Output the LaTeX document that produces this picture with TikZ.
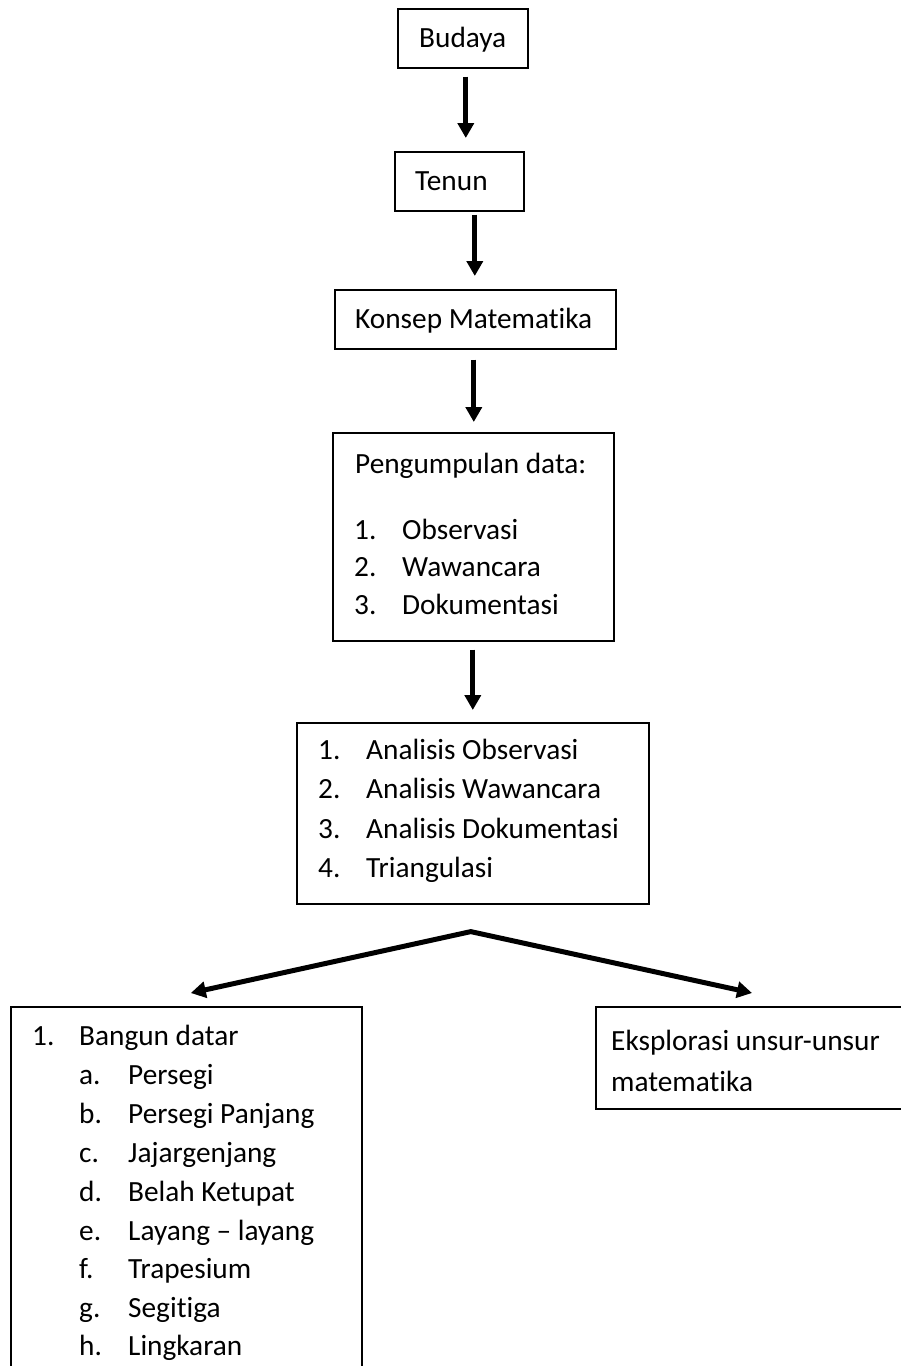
\documentclass[tikz,border=0pt]{standalone}
\usepackage{fontspec}
\setmainfont{Carlito}[Ligatures={TeX,NoCommon}]
\usetikzlibrary{arrows.meta}
\begin{document}
\begin{tikzpicture}[x=1pt,y=-1pt,
  box/.style={draw, line width=1.6pt, inner sep=0pt, anchor=north west},
  txt/.style={anchor=base west, inner sep=0pt, font=\fontsize{29.3}{35}\selectfont},
  arr/.style={line width=5pt, -{Triangle[length=15pt,width=16pt]}},
  darr/.style={line width=5pt, line join=miter, {Triangle[length=15pt,width=16pt]}-{Triangle[length=15pt,width=16pt]}}]
\useasboundingbox (0,0) rectangle (901,1366);
\clip (0,0) rectangle (901,1366);
\fill[white] (0,0) rectangle (901,1366);

% boxes
\node[box, minimum width=130pt, minimum height=59pt] (budaya) at (397,8) {};
\node[box, minimum width=129pt, minimum height=59pt] (tenun) at (394,151) {};
\node[box, minimum width=281pt, minimum height=59pt] (konsep) at (334,289) {};
\node[box, minimum width=281pt, minimum height=208pt] (kumpul) at (332,432) {};
\node[box, minimum width=352pt, minimum height=181pt] (analisis) at (296,722) {};
\node[box, minimum width=351pt, minimum height=420pt] (lbox) at (10,1006) {};
\node[box, minimum width=330pt, minimum height=102pt] (rbox) at (595,1006) {};

% texts
\node[txt] (t1) at (419,47) {Budaya};
\node[txt] (t2) at (415,190) {Tenun};
\node[txt] (t3) at (355,328) {Konsep Matematika};

\node[txt] (k0) at (355,473) {Pengumpulan data:};
\node[txt] (k1n) at (354,539) {1.};
\node[txt] (k1) at (402,539) {Observasi};
\node[txt] (k2n) at (354,576.5) {2.};
\node[txt] (k2) at (402,576.5) {Wawancara};
\node[txt] (k3n) at (354,614) {3.};
\node[txt] (k3) at (402,614) {Dokumentasi};

\node[txt] (a1n) at (318,759) {1.};
\node[txt] (a1) at (366,759) {Analisis Observasi};
\node[txt] (a2n) at (318,798.5) {2.};
\node[txt] (a2) at (366,798.5) {Analisis Wawancara};
\node[txt] (a3n) at (318,838) {3.};
\node[txt] (a3) at (366,838) {Analisis Dokumentasi};
\node[txt] (a4n) at (318,877.5) {4.};
\node[txt] (a4) at (366,877.5) {Triangulasi};

\node[txt] (b0n) at (32,1045) {1.};
\node[txt] (b0) at (79,1045) {Bangun datar};
\node[txt] (ban) at (79,1084) {a.};
\node[txt] (ba) at (128,1084) {Persegi};
\node[txt] (bbn) at (79,1123) {b.};
\node[txt] (bb) at (128,1123) {Persegi Panjang};
\node[txt] (bcn) at (79,1162) {c.};
\node[txt] (bc) at (128,1162) {Jajargenjang};
\node[txt] (bdn) at (79,1201) {d.};
\node[txt] (bd) at (128,1201) {Belah Ketupat};
\node[txt] (ben) at (79,1240) {e.};
\node[txt] (be) at (128,1240) {Layang – layang};
\node[txt] (bfn) at (79,1278) {f.};
\node[txt] (bf) at (128,1278) {Trapesium};
\node[txt] (bgn) at (79,1317) {g.};
\node[txt] (bg) at (128,1317) {Segitiga};
\node[txt] (bhn) at (79,1355) {h.};
\node[txt] (bh) at (128,1355) {Lingkaran};

\node[txt] (r1) at (611,1050) {Eksplorasi unsur-unsur};
\node[txt] (r2) at (611,1091) {matematika};

% arrows
\draw[arr] ([xshift=3pt,yshift=-8pt]budaya.south) -- ([xshift=6.5pt,yshift=13pt]tenun.north);
\draw[arr] ([xshift=15.5pt,yshift=-3pt]tenun.south) -- ([xshift=-0.5pt,yshift=13pt]konsep.north);
\draw[arr] ([xshift=-1.5pt,yshift=-10pt]konsep.south) -- ([xshift=0.5pt,yshift=10pt]kumpul.north);
\draw[arr] ([xshift=-0.5pt,yshift=-8pt]kumpul.south) -- ([yshift=12pt]analisis.north);
\coordinate (apex) at ([xshift=-2pt,yshift=-27pt]analisis.south);
\draw[darr] ([xshift=4.5pt,yshift=13pt]lbox.north) -- (apex) -- ([xshift=157pt,yshift=13pt]rbox.north west);
\end{tikzpicture}
\end{document}
